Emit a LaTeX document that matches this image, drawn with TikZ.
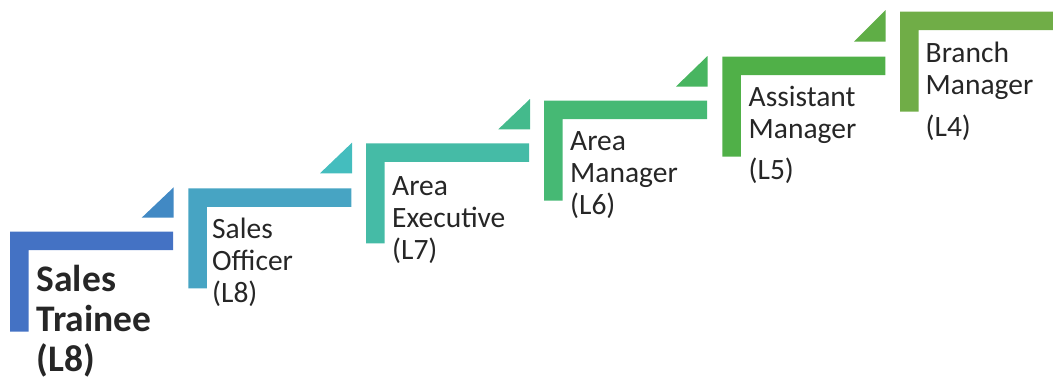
\documentclass[tikz,border=0pt]{standalone}
\usepackage{fontspec}
\setmainfont{Carlito}
\usetikzlibrary{positioning}
\definecolor{E1}{RGB}{68, 114, 196}
\definecolor{E2}{RGB}{71, 164, 195}
\definecolor{E3}{RGB}{69, 187, 166}
\definecolor{E4}{RGB}{70, 185, 116}
\definecolor{E5}{RGB}{80, 176, 72}
\definecolor{E6}{RGB}{112, 173, 71}
\definecolor{T1}{RGB}{65, 137, 196}
\definecolor{T2}{RGB}{68, 189, 190}
\definecolor{T3}{RGB}{68, 186, 140}
\definecolor{T4}{RGB}{72, 181, 96}
\definecolor{T5}{RGB}{95, 174, 70}

\begin{document}
\begin{tikzpicture}[x=1pt, y=-1pt,
    texto/.style={anchor=base west, inner sep=0pt, text=black!85,
        font=\fontsize{29.5}{32.3}\selectfont},
    grande/.style={font=\fontsize{37.5}{40}\selectfont\bfseries}]
    \useasboundingbox (0,0) rectangle (1053,381);

    %Escalon 1 Sales Trainee
    \fill[E1] (10,231.7) -- ++(163,0) -- ++(0,18.5) -- ++(-144.5,0) -- ++(0,81.5) -- ++(-18.5,0) -- cycle;
    \fill[T1] (173.7,187.3) -- (173.7,217.7) -- (141.7,217.7) -- cycle;
    \node[texto,grande] (trainee) at (36.5,291.7) {\vtop{\hbox{Sales}\hbox{Trainee}\hbox{(L8)}}};

    %Escalon 2 Sales Officer
    \fill[E2] (188.3,188.3) -- ++(163,0) -- ++(0,18.5) -- ++(-144.5,0) -- ++(0,81.5) -- ++(-18.5,0) -- cycle;
    \fill[T2] (352,142.7) -- (352,173.3) -- (320,173.3) -- cycle;
    \node[texto] (officer) at (212,238.3) {\vtop{\hbox{Sales}\hbox{Officer}\hbox{(L8)}}};

    %Escalon 3 Area Executive
    \fill[E3] (366,143.3) -- ++(163,0) -- ++(0,18.5) -- ++(-144.5,0) -- ++(0,81.5) -- ++(-18.5,0) -- cycle;
    \fill[T3] (530,99) -- (530,129.3) -- (498.3,129.3) -- cycle;
    \node[texto] (executive) at (392,195) {\vtop{\hbox{Area}\hbox{Executive}\hbox{(L7)}}};

    %Escalon 4 Area Manager
    \fill[E4] (544,100.7) -- ++(163,0) -- ++(0,18.5) -- ++(-144.5,0) -- ++(0,81.5) -- ++(-18.5,0) -- cycle;
    \fill[T4] (707.5,56) -- (707.5,86.5) -- (676,86.5) -- cycle;
    \node[texto] (areamanager) at (570,150) {\vtop{\hbox{Area}\hbox{Manager}\hbox{(L6)}}};

    %Escalon 5 Assistant Manager
    \fill[E5] (722.3,56.7) -- ++(163,0) -- ++(0,18.5) -- ++(-144.5,0) -- ++(0,81.5) -- ++(-18.5,0) -- cycle;
    \fill[T5] (885.7,10) -- (885.7,41.7) -- (854,41.7) -- cycle;
    \node[texto] (assistant) at (748.5,106) {\vtop{\hbox{Assistant}\hbox{Manager}\vskip9pt\hbox{(L5)}}};

    %Escalon 6 Branch Manager
    \fill[E6] (900,11.7) -- ++(163,0) -- ++(0,18.5) -- ++(-144.5,0) -- ++(0,81.5) -- ++(-18.5,0) -- cycle;
    \node[texto] (branch) at (925.5,62.5) {\vtop{\hbox{Branch}\hbox{Manager}\vskip9pt\hbox{(L4)}}};
\end{tikzpicture}
\end{document}
